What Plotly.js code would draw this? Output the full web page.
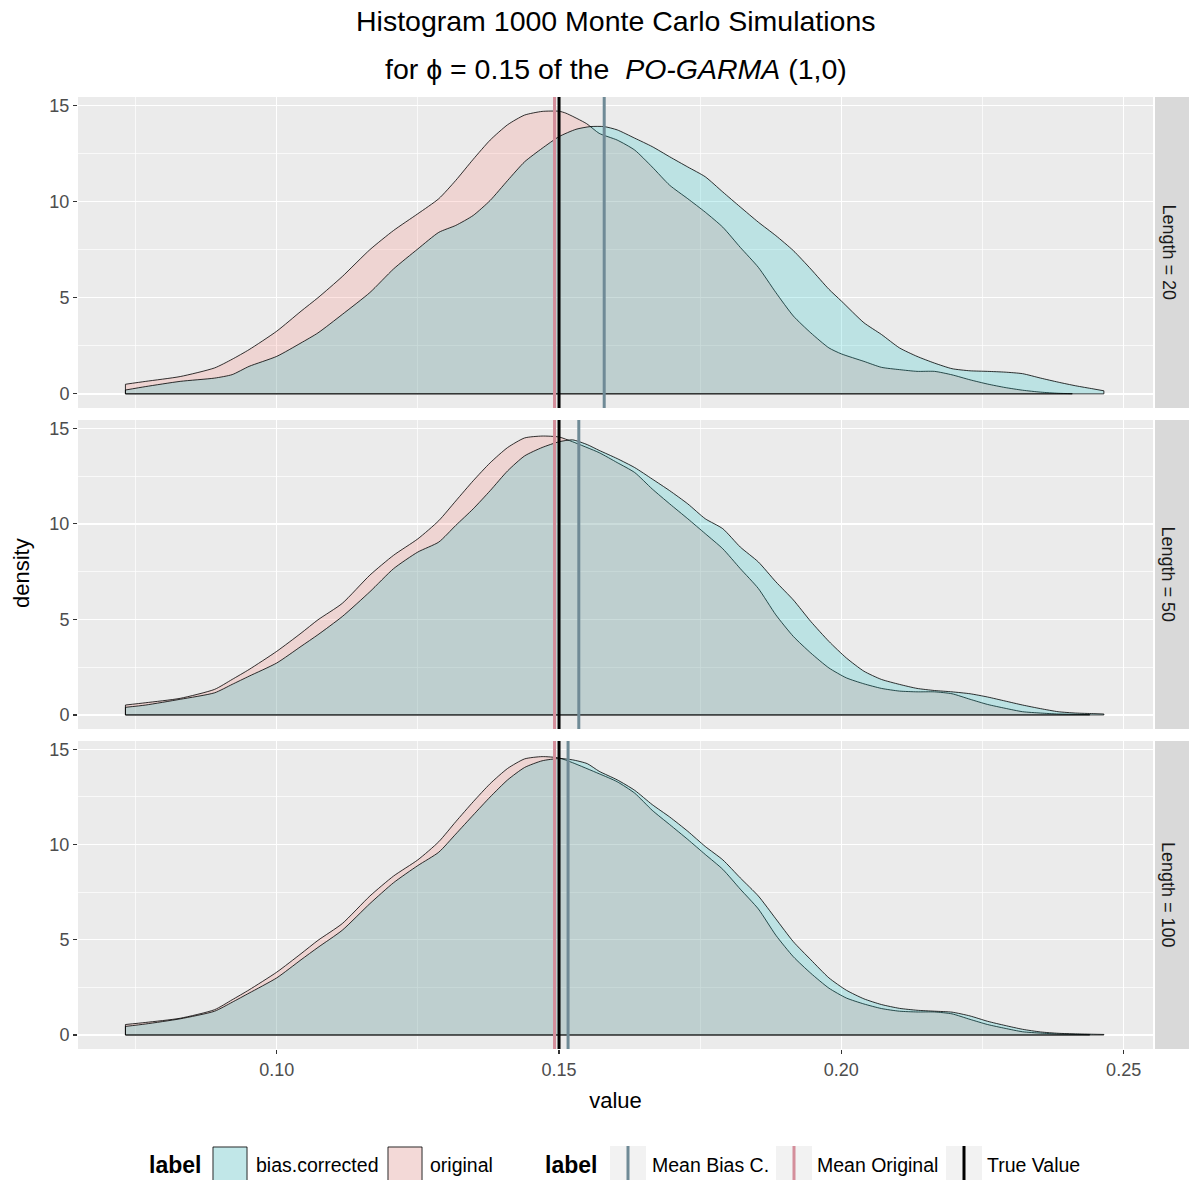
<!DOCTYPE html>
<html><head><meta charset="utf-8">
<script src="https://cdn.plot.ly/plotly-3.0.1.min.js"></script>
<style>body{margin:0;background:#fff}#chart{width:1189px;height:1180px}</style>
</head><body><div id="chart"></div>
<script>
// ---------- data ----------
const panelLabels = ["Length = 20", "Length = 50", "Length = 100"];
const xTicks = [0.10, 0.15, 0.20, 0.25];
const xTickText = ["0.10", "0.15", "0.20", "0.25"];
const yTicks = [0, 5, 10, 15];
const yTickText = ["0", "5", "10", "15"];

// Length = 20
const x20Orig = [0.0732,0.0768,0.0829,0.0890,0.0921,0.0951,0.1000,0.1043,0.1073,0.1116,0.1165,0.1207,0.1250,0.1287,0.1317,0.1348,0.1378,0.1409,0.1439,0.1470,0.1500,0.1512,0.1549,0.1571,0.1603,0.1634,0.1665,0.1696,0.1728,0.1759,0.1790,0.1821,0.1853,0.1884,0.1915,0.1946,0.1978,0.2000,0.2040,0.2071,0.2103,0.2134,0.2165,0.2196,0.2228,0.2259,0.2290,0.2321,0.2353,0.2384,0.2409];
const y20Orig = [0.50,0.65,0.90,1.35,1.80,2.30,3.26,4.30,5.00,6.10,7.50,8.50,9.37,10.15,11.10,12.20,13.20,14.00,14.50,14.69,14.70,14.60,14.05,13.55,13.20,12.68,11.80,10.85,10.15,9.45,8.67,7.62,6.58,5.27,4.05,3.17,2.39,2.08,1.69,1.38,1.26,1.17,1.17,0.99,0.73,0.51,0.33,0.19,0.09,0.03,0.01];
const x20Bias = [0.0732,0.0768,0.0829,0.0890,0.0921,0.0951,0.1000,0.1043,0.1073,0.1116,0.1165,0.1207,0.1250,0.1287,0.1317,0.1348,0.1378,0.1409,0.1439,0.1470,0.1500,0.1530,0.1555,0.1580,0.1603,0.1634,0.1665,0.1696,0.1728,0.1759,0.1790,0.1821,0.1853,0.1884,0.1915,0.1946,0.1978,0.2000,0.2040,0.2071,0.2103,0.2134,0.2165,0.2196,0.2228,0.2259,0.2290,0.2321,0.2353,0.2384,0.2415,0.2446,0.2465];
const y20Bias = [0.20,0.38,0.65,0.82,1.00,1.43,1.95,2.65,3.17,4.13,5.27,6.50,7.54,8.40,8.76,9.28,10.06,11.10,12.07,12.77,13.38,13.76,13.90,13.90,13.73,13.30,12.86,12.33,11.80,11.29,10.50,9.72,8.93,8.23,7.45,6.49,5.44,4.83,3.70,3.09,2.39,1.95,1.60,1.31,1.20,1.17,1.13,1.05,0.82,0.61,0.42,0.26,0.16];

// Length = 50
const x50Orig = [0.0732,0.0768,0.0829,0.0890,0.0921,0.0951,0.1000,0.1043,0.1073,0.1116,0.1165,0.1207,0.1250,0.1287,0.1317,0.1348,0.1378,0.1409,0.1439,0.1470,0.1500,0.1524,0.1571,0.1603,0.1634,0.1665,0.1696,0.1728,0.1759,0.1790,0.1821,0.1853,0.1884,0.1915,0.1946,0.1978,0.2009,0.2040,0.2071,0.2103,0.2134,0.2165,0.2196,0.2228,0.2259,0.2290,0.2321,0.2353,0.2384,0.2440];
const y50Orig = [0.52,0.64,0.87,1.34,1.86,2.38,3.33,4.28,4.98,5.84,7.32,8.36,9.22,10.17,11.20,12.26,13.20,14.00,14.50,14.60,14.55,14.30,13.73,13.21,12.69,11.83,11.05,10.27,9.49,8.70,7.66,6.62,5.24,4.11,3.24,2.46,1.94,1.63,1.39,1.25,1.21,1.21,1.11,0.82,0.55,0.35,0.17,0.10,0.05,0.02];
const x50Bias = [0.0732,0.0768,0.0829,0.0890,0.0921,0.0951,0.1000,0.1043,0.1073,0.1116,0.1165,0.1207,0.1250,0.1287,0.1317,0.1348,0.1378,0.1409,0.1439,0.1470,0.1500,0.1524,0.1550,0.1571,0.1603,0.1634,0.1665,0.1696,0.1728,0.1759,0.1790,0.1821,0.1853,0.1884,0.1915,0.1946,0.1978,0.2009,0.2040,0.2071,0.2103,0.2134,0.2165,0.2196,0.2228,0.2259,0.2290,0.2321,0.2353,0.2384,0.2415,0.2446,0.2465];
const y50Bias = [0.40,0.52,0.82,1.16,1.60,2.03,2.72,3.59,4.20,5.15,6.45,7.66,8.53,9.05,9.92,10.79,11.74,12.78,13.56,14.00,14.30,14.40,14.15,13.85,13.42,12.95,12.35,11.74,11.05,10.27,9.75,8.79,8.01,6.97,6.02,4.89,3.85,2.98,2.29,1.86,1.60,1.39,1.28,1.21,1.11,0.94,0.73,0.52,0.33,0.17,0.10,0.07,0.05];

// Length = 100
const x100Orig = [0.0732,0.0768,0.0829,0.0890,0.0921,0.0951,0.1000,0.1043,0.1073,0.1116,0.1165,0.1207,0.1250,0.1287,0.1317,0.1348,0.1378,0.1409,0.1439,0.1470,0.1500,0.1524,0.1571,0.1603,0.1634,0.1665,0.1696,0.1728,0.1759,0.1790,0.1821,0.1853,0.1884,0.1915,0.1946,0.1978,0.2009,0.2040,0.2071,0.2103,0.2134,0.2165,0.2196,0.2228,0.2259,0.2290,0.2321,0.2353,0.2384,0.2440];
const y100Orig = [0.55,0.66,0.88,1.33,1.85,2.37,3.30,4.27,4.97,5.85,7.30,8.35,9.20,10.15,11.20,12.25,13.20,14.00,14.50,14.62,14.55,14.30,13.72,13.30,12.70,11.80,11.05,10.27,9.48,8.70,7.66,6.62,5.24,4.11,3.24,2.46,1.94,1.63,1.39,1.25,1.21,1.21,1.11,0.82,0.55,0.35,0.17,0.10,0.05,0.02];
const x100Bias = [0.0732,0.0768,0.0829,0.0890,0.0921,0.0951,0.1000,0.1043,0.1073,0.1116,0.1165,0.1207,0.1250,0.1287,0.1317,0.1348,0.1378,0.1409,0.1439,0.1470,0.1500,0.1524,0.1550,0.1571,0.1603,0.1634,0.1665,0.1696,0.1728,0.1759,0.1790,0.1821,0.1853,0.1884,0.1915,0.1946,0.1978,0.2009,0.2040,0.2071,0.2103,0.2134,0.2165,0.2196,0.2228,0.2259,0.2290,0.2321,0.2353,0.2384,0.2415,0.2446,0.2465];
const y100Bias = [0.45,0.58,0.85,1.25,1.72,2.20,3.00,3.95,4.60,5.50,6.90,8.00,8.90,9.60,10.55,11.55,12.50,13.40,14.05,14.40,14.52,14.45,14.25,13.85,13.40,12.85,12.10,11.45,10.70,9.90,9.20,8.25,7.30,6.10,4.90,3.95,3.00,2.35,1.90,1.60,1.40,1.30,1.25,1.20,1.00,0.72,0.50,0.30,0.16,0.09,0.06,0.04,0.03];

const meanBias = [0.1580, 0.1535, 0.1516];
const meanOrig = [0.1492, 0.1492, 0.1492];
const trueValue = [0.15, 0.15, 0.15];

const fillLabels = ["bias.corrected", "original"];
const lineLabels = ["Mean Bias C.", "Mean Original", "True Value"];

// ---------- styling ----------
const FONT = "Liberation Sans, Arial, Helvetica, sans-serif";
const pinkFill = "rgba(248,118,109,0.2)";
const tealFill = "rgba(0,191,196,0.2)";
const colBias = "#6F8A96";
const colOrig = "#D48E9B";
const colTrue = "#000000";

const L = 78, R = 36, T = 97, B = 131, W = 1189, H = 1180;
const PW = W - L - R, PH = H - T - B;
const px = v => (v - L) / PW;
const py = v => (H - B - v) / PH;

const panels = [
  {xo: x20Orig, yo: y20Orig, xb: x20Bias, yb: y20Bias, ya: "y",  top: 97,  bot: 408},
  {xo: x50Orig, yo: y50Orig, xb: x50Bias, yb: y50Bias, ya: "y2", top: 420, bot: 729},
  {xo: x100Orig, yo: y100Orig, xb: x100Bias, yb: y100Bias, ya: "y3", top: 741, bot: 1049}
];

const traces = [];
function area(xs, ys, ya, fill) {
  traces.push({x: xs, y: ys, xaxis: "x", yaxis: ya, type: "scatter", mode: "lines",
    fill: "tozeroy", fillcolor: fill, line: {color: "#000", width: 0.8, shape: "spline", smoothing: 0.6},
    hoverinfo: "skip", showlegend: false});
}
function edges(xs, ys, ya) {
  const n = xs.length - 1;
  traces.push({x: [xs[0], xs[0], xs[n], xs[n]], y: [ys[0], 0, 0, ys[n]], xaxis: "x", yaxis: ya,
    type: "scatter", mode: "lines", line: {color: "#000", width: 0.8}, hoverinfo: "skip", showlegend: false});
}
panels.forEach(p => { area(p.xo, p.yo, p.ya, pinkFill); area(p.xb, p.yb, p.ya, tealFill); });
panels.forEach(p => { edges(p.xo, p.yo, p.ya); edges(p.xb, p.yb, p.ya); });

const shapes = [], annotations = [];
panels.forEach((p, i) => {
  const dref = p.ya + " domain";
  [[meanBias[i], colBias], [meanOrig[i], colOrig], [trueValue[i], colTrue]].forEach(([v, c]) => {
    shapes.push({type: "line", xref: "x", yref: dref, x0: v, x1: v, y0: 0, y1: 1,
      line: {color: c, width: 3}, layer: "above"});
  });
  shapes.push({type: "rect", xref: "paper", yref: dref, x0: px(1155), x1: px(1190), y0: 0, y1: 1,
    fillcolor: "#D9D9D9", line: {width: 0}, layer: "below"});
  annotations.push({text: panelLabels[i], xref: "paper", yref: dref, x: px(1168), y: 0.5,
    xanchor: "center", yanchor: "middle",
    textangle: 90, showarrow: false, font: {family: FONT, size: 18, color: "#1A1A1A"}});
});

// titles
annotations.push({text: "Histogram 1000 Monte Carlo Simulations", xref: "paper", yref: "paper",
  x: 0.5, y: py(21), xanchor: "center", yanchor: "middle", showarrow: false,
  font: {family: FONT, size: 28.5, color: "#000"}});
annotations.push({text: "for \u03d5 = 0.15 of the  <i>PO-GARMA</i> (1,0)", xref: "paper", yref: "paper",
  x: 0.5, y: py(69), xanchor: "center", yanchor: "middle", showarrow: false,
  font: {family: FONT, size: 28.5, color: "#000"}});
annotations.push({text: "density", xref: "paper", yref: "paper", x: px(21), y: py(573),
  xanchor: "center", yanchor: "middle", textangle: -90, showarrow: false,
  font: {family: FONT, size: 22, color: "#000"}});

// legend (drawn manually, ggplot style)
const LY0 = 1146, LY1 = 1182, LYC = 1165;
function ltext(t, x, size, bold) {
  annotations.push({text: bold ? "<b>" + t + "</b>" : t, xref: "paper", yref: "paper", x: px(x), y: py(LYC),
    xanchor: "left", yanchor: "middle", showarrow: false, font: {family: FONT, size: size, color: "#000"}});
}
function keybg(x0) {
  shapes.push({type: "rect", xref: "paper", yref: "paper", x0: px(x0), x1: px(x0 + 36), y0: py(LY1), y1: py(LY0),
    fillcolor: "#F2F2F2", line: {width: 0}});
}
ltext("label", 147, 23, true);
keybg(212);
shapes.push({type: "rect", xref: "paper", yref: "paper", x0: px(213), x1: px(247), y0: py(LY1 - 1), y1: py(LY0 + 1),
  fillcolor: tealFill, line: {color: "#000", width: 0.8}});
ltext(fillLabels[0], 254, 19.5, false);
keybg(387);
shapes.push({type: "rect", xref: "paper", yref: "paper", x0: px(388), x1: px(422), y0: py(LY1 - 1), y1: py(LY0 + 1),
  fillcolor: pinkFill, line: {color: "#000", width: 0.8}});
ltext(fillLabels[1], 428, 19.5, false);
ltext("label", 543, 23, true);
[[610, colBias, lineLabels[0], 650], [776, colOrig, lineLabels[1], 815], [946, colTrue, lineLabels[2], 985]].forEach(([x0, c, t, tx]) => {
  keybg(x0);
  shapes.push({type: "line", xref: "paper", yref: "paper", x0: px(x0 + 18), x1: px(x0 + 18), y0: py(LY1), y1: py(LY0),
    line: {color: c, width: 3}});
  ltext(t, tx, 19.5, false);
});

function yax(dom) {
  return {domain: dom, range: [-0.735, 15.44], tickvals: yTicks, ticktext: yTickText,
    ticks: "outside", ticklen: 4, tickwidth: 1.1, tickcolor: "#333333",
    tickfont: {family: FONT, size: 18, color: "#4D4D4D"},
    showgrid: true, gridcolor: "#FFFFFF", gridwidth: 1.4, zeroline: false, showline: false,
    minor: {tickvals: [2.5, 7.5, 12.5], showgrid: true, gridcolor: "#FFFFFF", gridwidth: 0.7, ticks: ""},
    fixedrange: true};
}

const layout = {
  width: W, height: H, margin: {l: L, r: R, t: T, b: B},
  paper_bgcolor: "#FFFFFF", plot_bgcolor: "#EBEBEB", showlegend: false,
  font: {family: FONT},
  xaxis: {anchor: "y3", range: [0.0648, 0.2552], tickvals: xTicks, ticktext: xTickText,
    ticks: "outside", ticklen: 4, tickwidth: 1.1, tickcolor: "#333333",
    tickfont: {family: FONT, size: 18, color: "#4D4D4D"},
    showgrid: true, gridcolor: "#FFFFFF", gridwidth: 1.4, zeroline: false, showline: false,
    minor: {tickvals: [0.075, 0.125, 0.175, 0.225], showgrid: true, gridcolor: "#FFFFFF", gridwidth: 0.7, ticks: ""},
    title: {text: "value", font: {family: FONT, size: 22, color: "#000"}, standoff: 14},
    fixedrange: true},
  yaxis: yax([py(408), 1]),
  yaxis2: yax([py(729), py(420)]),
  yaxis3: yax([0, py(741)]),
  shapes: shapes, annotations: annotations
};

Plotly.newPlot("chart", traces, layout, {staticPlot: true, displayModeBar: false});
</script></body></html>
